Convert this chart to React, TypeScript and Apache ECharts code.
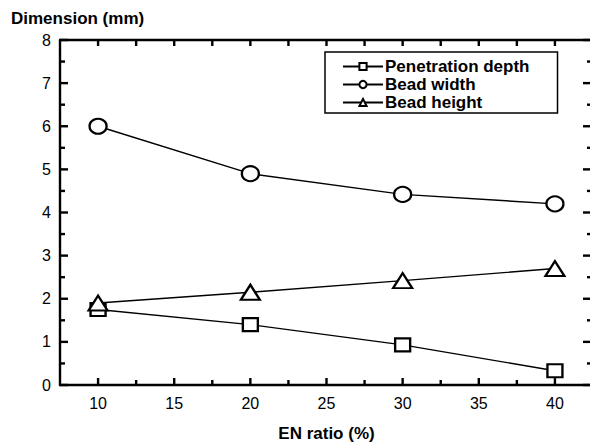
import React, { useEffect, useRef } from "react";
import * as echarts from "echarts";

const enRatio = [10, 20, 30, 40];
const penetrationDepth = [1.75, 1.4, 0.93, 0.33];
const beadWidth = [6.0, 4.9, 4.42, 4.2];
const beadHeight = [1.9, 2.15, 2.42, 2.7];
const xMajorTicks = [10, 15, 20, 25, 30, 35, 40];
const xMinorTicks = [12.5, 17.5, 22.5, 27.5, 32.5, 37.5];
const yMajorTicks = [0, 1, 2, 3, 4, 5, 6, 7, 8];
const yMinorTicks = [0.5, 1.5, 2.5, 3.5, 4.5, 5.5, 6.5, 7.5];

const X_MIN = 7.5;
const X_MAX = 42.5;
const Y_MIN = 0;
const Y_MAX = 8;

const FONT = "'Liberation Sans', Arial, Helvetica, sans-serif";

export default function App() {
  const ref = useRef<HTMLDivElement>(null);
  useEffect(() => {
    if (!ref.current) return;
    const chart = echarts.init(ref.current, undefined, { renderer: "svg" });
    const pairs = (ys: number[]) => enRatio.map((x, i) => [x, ys[i]]);
    const mk = (name: string, ys: number[], symbol: string, size: number[]) => ({
      name,
      type: "line",
      data: pairs(ys),
      symbol,
      symbolSize: size,
      showSymbol: true,
      lineStyle: { color: "#000", width: 1.4 },
      itemStyle: { color: "#fff", borderColor: "#000", borderWidth: 2.2 },
      z: 3,
    });
    const tickStroke = { stroke: "#000", lineWidth: 2.4 };
    const xTickData = [
      ...xMajorTicks.map((v) => [v, 1]),
      ...xMinorTicks.map((v) => [v, 0]),
    ];
    const yTickData = [
      ...yMajorTicks.map((v) => [v, 1]),
      ...yMinorTicks.map((v) => [v, 0]),
    ];
    const xTickSeries = {
      type: "custom",
      name: "xticks",
      silent: true,
      clip: false,
      z: 5,
      data: xTickData,
      encode: { x: 0, y: 1 },
      renderItem: (_p: any, api: any) => {
        const v = api.value(0);
        const major = api.value(1) === 1;
        const b = api.coord([v, Y_MIN]);
        const t = api.coord([v, Y_MAX]);
        const lb = major ? 7 : 5;
        const lt = 6;
        return {
          type: "group",
          children: [
            { type: "line", shape: { x1: b[0], y1: b[1], x2: b[0], y2: b[1] - lb }, style: tickStroke },
            { type: "line", shape: { x1: t[0], y1: t[1], x2: t[0], y2: t[1] + lt }, style: tickStroke },
          ],
        };
      },
    };
    const yTickSeries = {
      type: "custom",
      name: "yticks",
      silent: true,
      clip: false,
      z: 5,
      data: yTickData,
      encode: { y: 0, x: 1 },
      renderItem: (_p: any, api: any) => {
        const v = api.value(0);
        const major = api.value(1) === 1;
        const l = api.coord([X_MIN, v]);
        const r = api.coord([X_MAX, v]);
        const ll = major ? 8 : 5;
        const lr = major ? 10 : 6;
        return {
          type: "group",
          children: [
            { type: "line", shape: { x1: l[0], y1: l[1], x2: l[0] + ll, y2: l[1] }, style: tickStroke },
            { type: "line", shape: { x1: r[0], y1: r[1], x2: r[0] - lr, y2: r[1] }, style: tickStroke },
          ],
        };
      },
    };
    chart.setOption({
      animation: false,
      textStyle: { fontFamily: FONT },
      title: {
        text: "Dimension (mm)",
        left: 6,
        top: 5,
        textStyle: { fontFamily: FONT, fontWeight: "bold", fontSize: 17, color: "#000" },
      },
      legend: {
        orient: "vertical",
        left: 325,
        top: 52,
        borderColor: "#000",
        borderWidth: 1.5,
        borderRadius: 0,
        padding: [6, 28, 2, 17],
        itemWidth: 40,
        itemHeight: 9,
        itemGap: 1,
        textStyle: { fontFamily: FONT, fontWeight: "bold", fontSize: 17, color: "#000", padding: [0, 0, 0, -3], lineHeight: 16 },
        data: ["Penetration depth", "Bead width", "Bead height"],
      },
      grid: { left: 60, top: 40, width: 533, height: 345, outerBoundsMode: "none" },
      xAxis: [
        {
          type: "value",
          min: X_MIN,
          max: X_MAX,
          position: "bottom",
          name: "EN ratio (%)",
          nameLocation: "middle",
          nameGap: 40,
          nameTextStyle: { fontFamily: FONT, fontWeight: "bold", fontSize: 17, color: "#000" },
          axisLine: { show: true, lineStyle: { color: "#000", width: 2.4 } },
          axisTick: { show: false },
          axisLabel: { customValues: xMajorTicks, fontSize: 16, color: "#000", margin: 10, fontFamily: FONT },
          splitLine: { show: false },
        },
        {
          type: "value",
          min: X_MIN,
          max: X_MAX,
          position: "top",
          axisLine: { show: true, onZero: false, lineStyle: { color: "#000", width: 2.4 } },
          axisTick: { show: false },
          axisLabel: { show: false },
          splitLine: { show: false },
        },
      ],
      yAxis: [
        {
          type: "value",
          min: Y_MIN,
          max: Y_MAX,
          interval: 1,
          axisLine: { show: true, lineStyle: { color: "#000", width: 2.4 } },
          axisTick: { show: false },
          axisLabel: { fontSize: 16, color: "#000", margin: 9, fontFamily: FONT },
          splitLine: { show: false },
        },
        {
          type: "value",
          min: Y_MIN,
          max: Y_MAX,
          interval: 1,
          position: "right",
          axisLine: { show: true, lineStyle: { color: "#000", width: 2 } },
          axisTick: { show: false },
          axisLabel: { show: false },
          splitLine: { show: false },
        },
      ],
      series: [
        mk("Penetration depth", penetrationDepth, "rect", [15, 13]),
        mk("Bead width", beadWidth, "circle", [17, 15]),
        mk("Bead height", beadHeight, "triangle", [19, 15]),
        xTickSeries,
        yTickSeries,
      ],
    });
    return () => chart.dispose();
  }, []);
  return (
    <div
      ref={ref}
      style={{ position: "fixed", left: 0, top: 0, width: 590, height: 443, background: "#fff" }}
    />
  );
}
